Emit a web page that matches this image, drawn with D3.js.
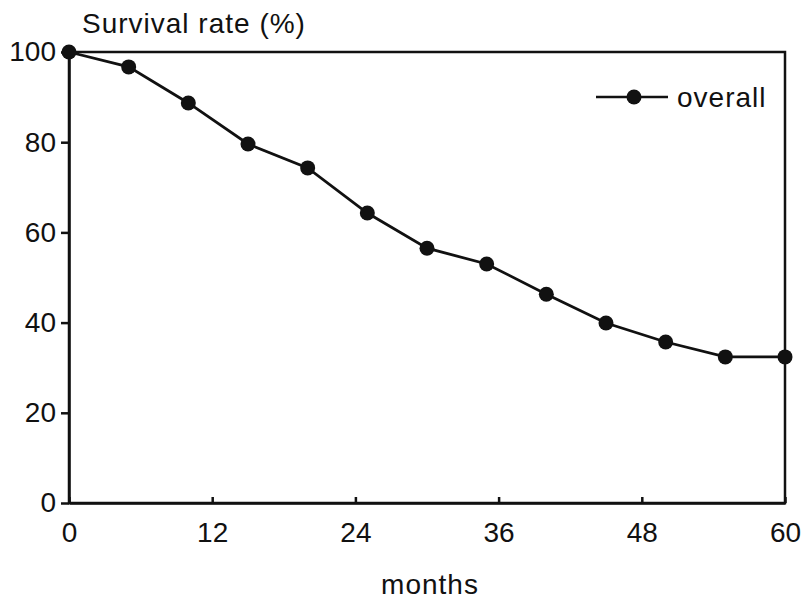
<!DOCTYPE html>
<html>
<head>
<meta charset="utf-8">
<script src="https://cdn.jsdelivr.net/npm/d3@7"></script>
<style>
  body { margin: 0; background: #fff; }
  text { font-family: "Liberation Sans", Arial, sans-serif; fill: #111; }
</style>
</head>
<body>
<div class="chart"></div>
<script>
  // survival data
  var months = [0, 5, 10, 15, 20, 25, 30, 35, 40, 45, 50, 55, 60];
  var survival = [100, 96.7, 88.7, 79.6, 74.3, 64.3, 56.5, 53.0, 46.3, 39.9, 35.7, 32.4, 32.4];
  var xTicks = [0, 12, 24, 36, 48, 60];
  var yTicks = [0, 20, 40, 60, 80, 100];

  var margin = { top: 52, right: 18, bottom: 98, left: 69 },
      width = 803 - margin.left - margin.right,
      height = 601 - margin.top - margin.bottom;

  var data = months.map(function(m, i) {
    return { month: m, rate: survival[i] };
  });

  var x = d3.scaleLinear().domain([0, 60]).range([0, width]);
  var y = d3.scaleLinear().domain([0, 100]).range([height, 0]);

  var svg = d3.select(".chart").append("svg")
      .attr("width", 803)
      .attr("height", 601)
    .append("g")
      .attr("transform", "translate(" + margin.left + "," + margin.top + ")");

  // frame (top + right)
  svg.append("rect")
      .attr("width", width)
      .attr("height", height)
      .attr("fill", "none")
      .attr("stroke", "#111")
      .attr("stroke-width", 2.5);

  var xAxis = d3.axisBottom(x)
      .tickValues(xTicks)
      .tickSizeInner(-6)
      .tickSizeOuter(0)
      .tickPadding(19);

  var yAxis = d3.axisLeft(y)
      .tickValues(yTicks)
      .tickSizeInner(8)
      .tickSizeOuter(0)
      .tickPadding(5);

  var gx = svg.append("g")
      .attr("transform", "translate(0," + height + ")")
      .call(xAxis);

  var gy = svg.append("g").call(yAxis);

  [gx, gy].forEach(function(g) {
    g.select(".domain").attr("stroke", "#111").attr("stroke-width", 2.5);
    g.selectAll(".tick line").attr("stroke", "#111").attr("stroke-width", 2.5);
    g.selectAll(".tick text")
        .style("font-family", "Liberation Sans, Arial, sans-serif")
        .style("font-size", "28px")
        .attr("fill", "#111");
  });

  // axis titles
  svg.append("text")
      .attr("x", 13)
      .attr("y", -19)
      .style("font-size", "28px")
      .style("letter-spacing", "1px")
      .text("Survival rate (%)");

  svg.append("text")
      .attr("x", x(30) + 3)
      .attr("y", height + 91)
      .attr("text-anchor", "middle")
      .style("font-size", "28px")
      .style("letter-spacing", "1px")
      .text("months");

  var line = d3.line()
      .x(function(d) { return x(d.month); })
      .y(function(d) { return y(d.rate); });

  svg.append("path")
      .datum(data)
      .attr("fill", "none")
      .attr("stroke", "#111")
      .attr("stroke-width", 2.8)
      .attr("d", line);

  svg.selectAll(".dot")
      .data(data)
      .enter().append("circle")
      .attr("class", "dot")
      .attr("cx", function(d) { return x(d.month); })
      .attr("cy", function(d) { return y(d.rate); })
      .attr("r", 7.5)
      .attr("fill", "#111");

  // legend
  var legend = svg.append("g")
      .attr("transform", "translate(" + (width - 189) + ",45)");

  legend.append("line")
      .attr("x1", 0).attr("x2", 72)
      .attr("stroke", "#111")
      .attr("stroke-width", 2.5);

  legend.append("circle")
      .attr("cx", 38)
      .attr("r", 7.5)
      .attr("fill", "#111");

  legend.append("text")
      .attr("x", 81)
      .attr("y", 10)
      .style("font-size", "28px")
      .style("letter-spacing", "1px")
      .text("overall");
</script>
</body>
</html>
